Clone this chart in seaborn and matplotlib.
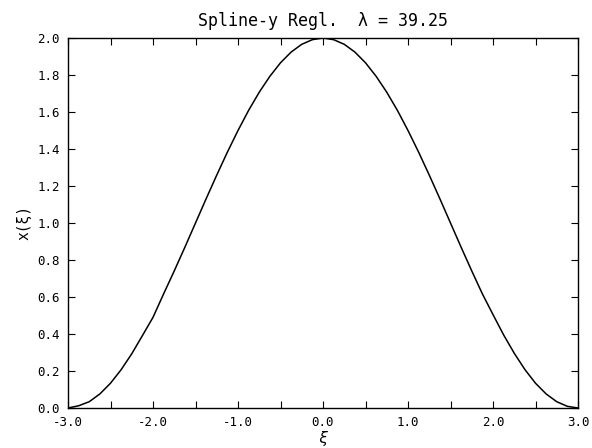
import matplotlib
matplotlib.use('Agg')
import matplotlib.pyplot as plt
import numpy as np
import pandas as pd
import seaborn as sns
from matplotlib.ticker import MultipleLocator, FormatStrFormatter

# curve values (half-curve, mirrored)
xi_half = [0.0, 0.125, 0.25, 0.375, 0.5, 0.625, 0.75, 0.875, 1.0, 1.125, 1.25, 1.375,
           1.5, 1.625, 1.75, 1.875, 2.0, 2.125, 2.25, 2.375, 2.5, 2.625, 2.75, 2.875, 3.0]
x_right = [2.000, 1.991, 1.966, 1.924, 1.866, 1.793, 1.707, 1.609, 1.500, 1.383, 1.259, 1.131,
           1.000, 0.869, 0.741, 0.617, 0.505, 0.395, 0.296, 0.208, 0.134, 0.076, 0.034, 0.009, 0.000]
x_left = [2.000, 1.991, 1.966, 1.924, 1.866, 1.793, 1.707, 1.609, 1.500, 1.383, 1.259, 1.131,
          1.000, 0.869, 0.741, 0.617, 0.490, 0.391, 0.293, 0.207, 0.134, 0.076, 0.034, 0.012, 0.000]

xi = [-v for v in xi_half[::-1]] + xi_half[1:]
xv = x_left[::-1] + x_right[1:]
df = pd.DataFrame({'xi': xi, 'x': xv})

sns.set_style('ticks')
plt.rcParams['font.family'] = ['DejaVu Sans Mono', 'DejaVu Sans']
plt.rcParams['text.color'] = 'black'
plt.rcParams['axes.labelcolor'] = 'black'
plt.rcParams['xtick.color'] = 'black'
plt.rcParams['ytick.color'] = 'black'

fig = plt.figure(figsize=(5.92, 4.48), dpi=100)
ax = fig.add_axes([68/592, 1-408/448, 510/592, 370/448])
sns.lineplot(data=df, x='xi', y='x', ax=ax, color='black', linewidth=1.1)

ax.set_xlim(-3, 3)
ax.set_ylim(0, 2)
ax.xaxis.set_major_locator(MultipleLocator(1.0))
ax.xaxis.set_minor_locator(MultipleLocator(0.5))
ax.yaxis.set_major_locator(MultipleLocator(0.2))
ax.xaxis.set_major_formatter(FormatStrFormatter('%.1f'))
ax.yaxis.set_major_formatter(FormatStrFormatter('%.1f'))
ax.tick_params(which='both', direction='in', top=True, right=True, width=0.8, labelsize=9)
ax.tick_params(which='major', length=5)
ax.tick_params(which='minor', length=5)
ax.tick_params(axis='x', which='both', pad=6)
ax.tick_params(axis='y', which='both', pad=6)
for s in ax.spines.values():
    s.set_linewidth(1.0)
    s.set_color('black')

ax.set_title('Spline-y Regl.  λ = 39.25', fontsize=12, pad=9)
ax.set_xlabel('ξ', fontsize=11, fontstyle='italic', labelpad=1)
ax.set_ylabel('x(ξ)', fontsize=10.5, labelpad=4)

fig.savefig('out.png', dpi=100)
